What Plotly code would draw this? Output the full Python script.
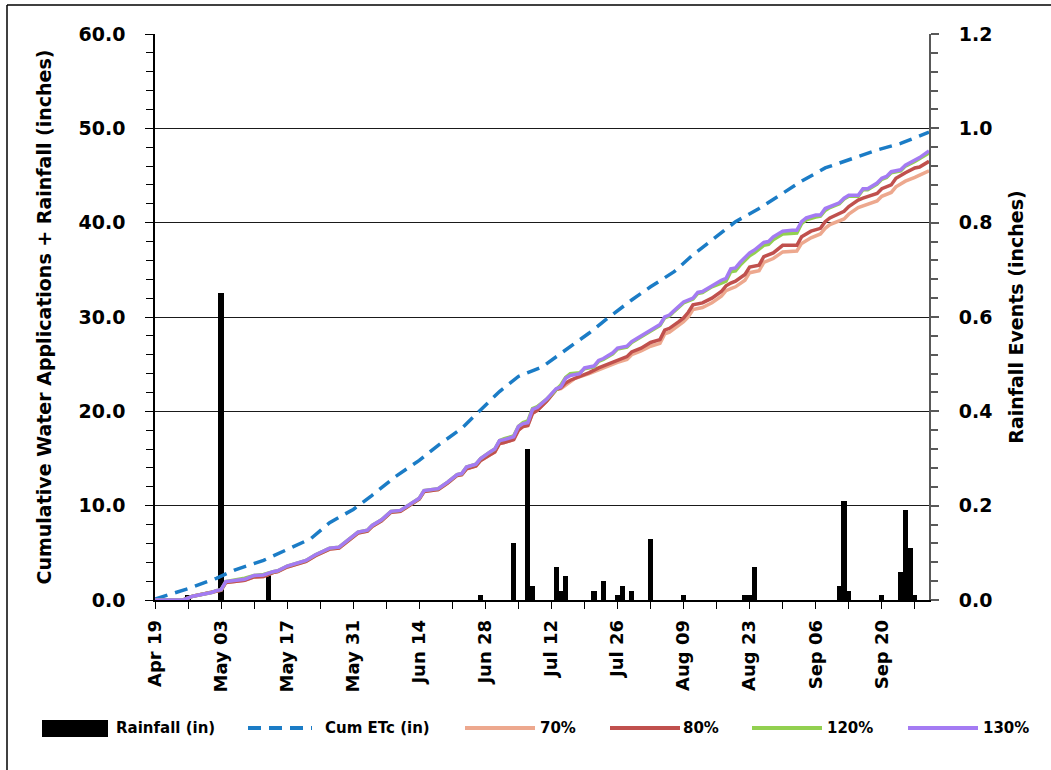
import pandas as pd
import plotly.graph_objects as go

# ---------------- data ----------------
base_date = "2016-04-19"

rain_dates = ["2016-04-26", "2016-05-03", "2016-05-13", "2016-06-27", "2016-07-04", "2016-07-07",
              "2016-07-08", "2016-07-13", "2016-07-14", "2016-07-15", "2016-07-21", "2016-07-23",
              "2016-07-26", "2016-07-27", "2016-07-29", "2016-08-02", "2016-08-09", "2016-08-22",
              "2016-08-23", "2016-08-24", "2016-09-11", "2016-09-12", "2016-09-13", "2016-09-20",
              "2016-09-24", "2016-09-25", "2016-09-26", "2016-09-27"]
rain_in = [0.01, 0.65, 0.06, 0.01, 0.12, 0.32, 0.03, 0.07, 0.02, 0.05, 0.02, 0.04,
           0.01, 0.03, 0.02, 0.13, 0.01, 0.01, 0.01, 0.07, 0.03, 0.21, 0.02, 0.01,
           0.06, 0.19, 0.11, 0.01]

# days after Apr 19
etc_days = [0, 7, 13, 17, 23, 28, 33, 37, 42, 46, 51, 56, 60, 65, 69, 73, 77, 82, 87, 92, 96,
            101, 105, 110, 114, 120, 123, 128, 133, 137, 142, 148, 153, 158, 164]
etc_in = [0.1, 1.2, 2.3, 3.2, 4.2, 5.3, 6.5, 8.2, 9.6, 11.1, 13.1, 14.8, 16.4, 18.2, 20.1, 22.1,
          23.7, 24.7, 26.5, 28.3, 29.9, 31.8, 33.2, 34.8, 36.6, 38.9, 40.1, 41.5, 43.1, 44.4,
          45.8, 46.8, 47.7, 48.4, 49.6]

p70_days = [0, 5, 6, 8, 9, 10, 12, 13, 14, 15, 17, 19, 21, 23, 25, 26, 28, 30, 32, 34, 37, 39, 41,
            43, 45, 46, 48, 50, 52, 54, 56, 57, 60, 62, 64, 65, 66, 68, 69, 71, 72, 73, 74, 76,
            77, 78, 79, 80, 81, 83, 85, 86, 89, 92, 94, 96, 98, 100, 101, 103, 105, 107, 108,
            109, 111, 112, 113, 114, 116, 118, 120, 121, 122, 123, 125, 126, 128, 129, 131, 133,
            136, 137, 139, 141, 142, 143, 146, 147, 149, 150, 153, 154, 156, 157, 159, 161, 162, 164]
p70_in = [0, 0, 0, 0.4, 0.5, 0.6, 0.8, 0.95, 1.05, 1.85, 1.95, 2.1, 2.45, 2.5, 2.9, 3.0, 3.5, 3.8,
          4.1, 4.7, 5.4, 5.5, 6.3, 7.1, 7.3, 7.8, 8.4, 9.3, 9.4, 10.0, 10.7, 11.5, 11.7, 12.4,
          13.2, 13.3, 13.9, 14.2, 14.8, 15.4, 15.7, 16.6, 16.7, 17.0, 18.0, 18.4, 18.5, 19.8,
          20.1, 21.1, 22.3, 22.4, 23.5, 24.0, 24.4, 24.8, 25.2, 25.5, 26.0, 26.4, 26.9, 27.2,
          28.2, 28.4, 29.1, 29.5, 30.0, 30.8, 31.0, 31.5, 32.2, 32.8, 33.0, 33.2, 33.9, 34.7,
          34.9, 35.8, 36.2, 36.9, 37.0, 37.8, 38.4, 38.8, 39.4, 39.8, 40.4, 40.9, 41.6, 41.8,
          42.3, 42.8, 43.2, 43.8, 44.4, 44.8, 45.0, 45.5]

p80_days = [0, 5, 6, 8, 9, 10, 12, 13, 14, 15, 17, 19, 21, 23, 25, 26, 28, 30, 32, 34, 37, 39, 41,
            43, 45, 46, 48, 50, 52, 54, 56, 57, 60, 62, 64, 65, 66, 68, 69, 71, 72, 73, 74, 76,
            77, 78, 79, 80, 81, 83, 85, 86, 87, 88, 90, 92, 94, 96, 98, 100, 101, 103, 105, 107,
            108, 109, 111, 112, 113, 114, 116, 118, 120, 121, 122, 123, 125, 126, 128, 129, 131,
            133, 136, 137, 139, 141, 142, 143, 146, 147, 149, 150, 153, 154, 156, 157, 159, 161,
            162, 164]
p80_in = [0, 0, 0, 0.4, 0.5, 0.6, 0.8, 0.95, 1.05, 1.85, 1.95, 2.1, 2.45, 2.5, 2.9, 3.0, 3.5, 3.8,
          4.1, 4.7, 5.4, 5.5, 6.3, 7.1, 7.3, 7.8, 8.4, 9.3, 9.4, 10.0, 10.7, 11.5, 11.7, 12.4,
          13.2, 13.3, 13.9, 14.2, 14.8, 15.4, 15.7, 16.6, 16.7, 17.0, 18.0, 18.4, 18.5, 19.8,
          20.1, 21.1, 22.3, 22.5, 23.0, 23.3, 23.7, 24.1, 24.6, 25.0, 25.4, 25.8, 26.3, 26.7,
          27.3, 27.6, 28.6, 28.8, 29.5, 29.9, 30.5, 31.3, 31.5, 32.0, 32.7, 33.3, 33.6, 33.8,
          34.5, 35.3, 35.5, 36.4, 36.8, 37.6, 37.6, 38.5, 39.1, 39.4, 40.1, 40.5, 41.2, 41.7,
          42.4, 42.6, 43.1, 43.6, 44.0, 44.7, 45.3, 45.8, 45.9, 46.5]

p120_days = [0, 5, 6, 8, 9, 10, 12, 13, 14, 15, 17, 19, 21, 23, 25, 26, 28, 30, 32, 34, 37, 39, 41,
             43, 45, 46, 48, 50, 52, 54, 56, 57, 60, 62, 64, 65, 66, 68, 69, 71, 72, 73, 74, 76,
             77, 78, 79, 80, 81, 83, 84, 85, 86, 87, 88, 90, 91, 93, 94, 95, 97, 98, 100, 101,
             102, 104, 106, 107, 108, 109, 110, 111, 112, 114, 115, 116, 117, 118, 120, 121, 122,
             123, 124, 126, 127, 129, 130, 131, 133, 135, 136, 137, 138, 140, 141, 142, 143, 145,
             146, 147, 149, 150, 151, 153, 154, 155, 156, 158, 159, 161, 162, 164]
p120_in = [0, 0, 0, 0.4, 0.5, 0.6, 0.8, 1.0, 1.1, 1.95, 2.1, 2.3, 2.6, 2.7, 3.0, 3.1, 3.6, 3.9, 4.2,
           4.8, 5.5, 5.6, 6.4, 7.2, 7.4, 7.9, 8.5, 9.4, 9.5, 10.1, 10.8, 11.6, 11.8, 12.5, 13.3,
           13.4, 14.1, 14.4, 15.0, 15.7, 16.0, 16.9, 17.1, 17.4, 18.4, 18.8, 19.0, 20.3, 20.5,
           21.3, 21.8, 22.4, 22.8, 23.6, 24.0, 24.1, 24.5, 24.7, 25.3, 25.5, 26.1, 26.6, 26.8,
           27.3, 27.6, 28.2, 28.9, 29.1, 29.9, 30.1, 30.6, 31.0, 31.5, 31.9, 32.5, 32.6, 32.9,
           33.2, 33.6, 33.8, 34.8, 34.9, 35.5, 36.5, 36.8, 37.6, 37.7, 38.2, 38.8, 38.9, 38.9,
           39.9, 40.3, 40.6, 40.7, 41.3, 41.6, 42.0, 42.5, 42.8, 42.8, 43.5, 43.5, 44.1, 44.6,
           44.8, 45.3, 45.5, 46.0, 46.5, 46.8, 47.4]

p130_days = [0, 5, 6, 8, 9, 10, 12, 13, 14, 15, 17, 19, 21, 23, 25, 26, 28, 30, 32, 34, 37, 39, 41,
             43, 45, 46, 48, 50, 52, 54, 56, 57, 60, 62, 64, 65, 66, 68, 69, 71, 72, 73, 74, 76,
             77, 78, 79, 80, 81, 83, 84, 85, 86, 87, 88, 90, 91, 93, 94, 95, 97, 98, 100, 101,
             102, 104, 106, 107, 108, 109, 110, 111, 112, 114, 115, 116, 117, 118, 120, 121, 122,
             123, 124, 126, 127, 129, 130, 131, 133, 135, 136, 137, 138, 140, 141, 142, 143, 145,
             146, 147, 149, 150, 151, 153, 154, 155, 156, 158, 159, 161, 162, 164]
p130_in = [0, 0, 0, 0.4, 0.5, 0.6, 0.8, 1.0, 1.1, 1.95, 2.05, 2.2, 2.6, 2.65, 3.0, 3.1, 3.6, 3.9,
           4.2, 4.8, 5.5, 5.6, 6.4, 7.2, 7.4, 7.9, 8.5, 9.4, 9.5, 10.1, 10.8, 11.6, 11.8, 12.5,
           13.3, 13.4, 14.1, 14.4, 15.0, 15.7, 16.0, 16.9, 17.0, 17.3, 18.4, 18.7, 18.8, 20.2,
           20.4, 21.3, 21.8, 22.4, 22.6, 23.5, 23.8, 24.0, 24.6, 24.8, 25.4, 25.6, 26.2, 26.7,
           26.9, 27.4, 27.7, 28.3, 29.0, 29.2, 30.0, 30.2, 30.7, 31.1, 31.6, 32.0, 32.6, 32.7,
           33.0, 33.4, 33.9, 34.1, 35.1, 35.2, 35.8, 36.8, 37.1, 37.9, 38.0, 38.5, 39.1, 39.2,
           39.2, 40.1, 40.5, 40.8, 40.8, 41.5, 41.7, 42.1, 42.6, 42.9, 42.9, 43.6, 43.6, 44.2,
           44.7, 44.9, 45.4, 45.6, 46.1, 46.6, 46.9, 47.6]

legend_labels = ["Rainfall (in)", "Cum ETc (in)", "70%", "80%", "120%", "130%"]


def to_dates(days):
    return pd.Timestamp(base_date) + pd.to_timedelta(days, unit="D")


FONT = "DejaVu Sans"
DAY_MS = 86400000

fig = go.Figure()
fig.add_trace(go.Bar(x=pd.to_datetime(rain_dates), y=rain_in, name=legend_labels[0],
                     yaxis="y", marker=dict(color="black", line=dict(width=0)),
                     width=DAY_MS * 1.1, showlegend=False))

line_specs = [
    (etc_days, etc_in, legend_labels[1], "#1B7CC6", "13px,8px"),
    (p70_days, p70_in, legend_labels[2], "#EDA88E", "solid"),
    (p80_days, p80_in, legend_labels[3], "#C0504D", "solid"),
    (p120_days, p120_in, legend_labels[4], "#92D050", "solid"),
    (p130_days, p130_in, legend_labels[5], "#A47BF3", "solid"),
]
for d, v, nm, col, dash in line_specs:
    fig.add_trace(go.Scatter(x=to_dates(d), y=v, name=nm, yaxis="y2", mode="lines",
                             line=dict(color=col, width=3.5, dash=dash), showlegend=False))

# pixel helpers for layout placement
L, R, T, B = 155, 929, 34, 600


def px(x):
    return (x - L) / (R - L)


def py(y):
    return (B - y) / (B - T)


tickfont = dict(family=FONT, size=19, color="black", weight="bold")

fig.update_layout(
    width=1051, height=770, autosize=False,
    margin=dict(l=L, r=1051 - R, t=T, b=770 - B),
    paper_bgcolor="white", plot_bgcolor="white",
    bargap=0,
    xaxis=dict(type="date", range=["2016-04-19", "2016-09-30"], tick0="2016-04-19",
               dtick=14 * DAY_MS, tickformat="%b %d", tickangle=-90,
               ticks="outside", ticklen=7, tickcolor="black", tickwidth=1,
               showline=True, linecolor="black", linewidth=1.5, showgrid=False,
               zeroline=False, tickfont=dict(family=FONT, size=18, color="black", weight="bold"),
               ticklabelstandoff=4,
               minor=dict(tick0="2016-04-19", dtick=7 * DAY_MS, ticks="outside", ticklen=7,
                          tickcolor="black", showgrid=False)),
    yaxis=dict(range=[0, 1.2], side="right", dtick=0.2, tickformat=".1f",
               ticks="outside", ticklen=8, tickcolor="#595959", tickwidth=1.5,
               showline=True, linecolor="#595959", linewidth=2, showgrid=False, zeroline=False,
               tickfont=tickfont, ticklabelstandoff=16,
               minor=dict(dtick=0.04, ticks="outside", ticklen=7, tickcolor="#595959",
                          showgrid=False),
               title=dict(text="Rainfall Events (inches)", standoff=18,
                          font=dict(family=FONT, size=19, color="black", weight="bold"))),
    yaxis2=dict(range=[0, 60], side="left", overlaying="y", dtick=10, tickformat=".1f",
                ticks="outside", ticklen=8, tickcolor="black", tickwidth=1,
                showline=True, linecolor="black", linewidth=1.5,
                showgrid=True, gridcolor="#1a1a1a", gridwidth=1, zeroline=False,
                tickfont=tickfont, ticklabelstandoff=16,
                minor=dict(dtick=2, ticks="outside", ticklen=7, tickcolor="black",
                           showgrid=False),
                title=dict(text="Cumulative Water Applications + Rainfall (inches)", standoff=22,
                           font=dict(family=FONT, size=19, color="black", weight="bold"))),
)

shapes = []
annotations = []
# outer chart border (left and top edges visible)
shapes.append(dict(type="line", xref="paper", yref="paper", x0=px(7), x1=px(1060),
                   y0=py(5), y1=py(5), line=dict(color="black", width=1.5)))
shapes.append(dict(type="line", xref="paper", yref="paper", x0=px(7), x1=px(7),
                   y0=py(5), y1=py(780), line=dict(color="black", width=1.5)))

# manual legend
ly = 728
legfont = dict(family=FONT, size=15, color="black", weight="bold")
shapes.append(dict(type="rect", xref="paper", yref="paper", x0=px(42), x1=px(108),
                   y0=py(737), y1=py(720), fillcolor="black", line=dict(width=0)))
annotations.append(dict(text=legend_labels[0], x=px(114), y=py(ly), xref="paper", yref="paper",
                        xanchor="left", yanchor="middle", showarrow=False, font=legfont))
leg_lines = [(248, 312, 323, "#1B7CC6", "13px,8px", legend_labels[1]),
             (465, 535, 538, "#EDA88E", "solid", legend_labels[2]),
             (610, 680, 681, "#C0504D", "solid", legend_labels[3]),
             (752, 822, 825, "#92D050", "solid", legend_labels[4]),
             (908, 978, 981, "#A47BF3", "solid", legend_labels[5])]
for x0, x1, xt, col, dash, lab in leg_lines:
    shapes.append(dict(type="line", xref="paper", yref="paper", x0=px(x0), x1=px(x1),
                       y0=py(ly), y1=py(ly), line=dict(color=col, width=4, dash=dash)))
    annotations.append(dict(text=lab, x=px(xt), y=py(ly), xref="paper", yref="paper",
                            xanchor="left", yanchor="middle", showarrow=False, font=legfont))

fig.update_layout(shapes=shapes, annotations=annotations)

fig.write_html("out.html", config={"displayModeBar": False},
               post_script="document.body.style.margin='0';document.body.style.overflow='hidden';")
